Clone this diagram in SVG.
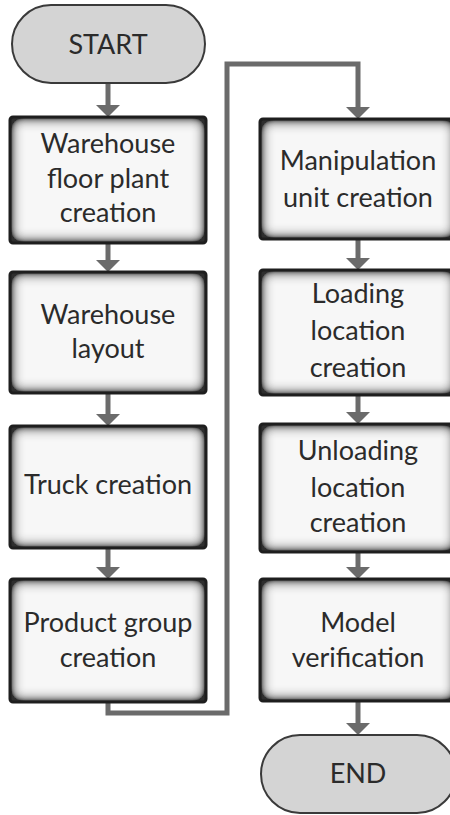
<svg xmlns="http://www.w3.org/2000/svg" width="450" height="815" viewBox="0 0 450 815">
  <style>
    .lbl { font-family: Lato, "Open Sans", "Liberation Sans", sans-serif; font-size: 27px; fill: #2b2b2b; text-anchor: middle; }
    .term { fill: #d4d4d4; stroke: #3a3a3a; stroke-width: 2; }
    .face { fill: #f7f7f7; filter: url(#vignette); }
    .edge { fill: none; stroke: #1e1e1e; stroke-width: 3; }
    .wire { fill: none; stroke: #6b6b6b; stroke-width: 5; }
  </style>
  <defs>
    <!-- grey shading that fades inward from the box edges -->
    <filter id="vignette" x="-25%" y="-35%" width="150%" height="170%">
      <feComponentTransfer in="SourceAlpha" result="inv">
        <feFuncA type="table" tableValues="1 0"/>
      </feComponentTransfer>
      <feGaussianBlur in="inv" stdDeviation="7" result="blur"/>
      <feComponentTransfer in="blur" result="boost">
        <feFuncA type="linear" slope="2.2" intercept="0"/>
      </feComponentTransfer>
      <feFlood flood-color="#2e2e2e" flood-opacity="1"/>
      <feComposite in2="boost" operator="in" result="sh"/>
      <feComposite in="sh" in2="SourceAlpha" operator="in" result="inner"/>
      <feMerge>
        <feMergeNode in="SourceGraphic"/>
        <feMergeNode in="inner"/>
      </feMerge>
    </filter>
    <marker id="head" viewBox="0 0 12 24" markerWidth="12" markerHeight="24" refX="1" refY="12" orient="auto" markerUnits="userSpaceOnUse">
      <path d="M0,0 L12,12 L0,24 Z" fill="#6b6b6b"/>
    </marker>
  </defs>

  <!-- connectors -->
  <g id="connectors">
    <path class="wire" d="M108,83 V106" marker-end="url(#head)"/>
    <path class="wire" d="M108,243 V261" marker-end="url(#head)"/>
    <path class="wire" d="M108,393 V415" marker-end="url(#head)"/>
    <path class="wire" d="M108,548 V568" marker-end="url(#head)"/>
    <path class="wire" d="M108,702 V713 H227 V64 H358 V108" marker-end="url(#head)"/>
    <path class="wire" d="M358,239 V259" marker-end="url(#head)"/>
    <path class="wire" d="M358,395 V413" marker-end="url(#head)"/>
    <path class="wire" d="M358,552 V568" marker-end="url(#head)"/>
    <path class="wire" d="M358,701 V724" marker-end="url(#head)"/>
  </g>

  <g id="start">
    <rect class="term" x="12" y="5" width="193" height="78" rx="39"/>
    <text class="lbl" x="108" y="54">START</text>
  </g>

  <g id="floor-plant">
    <rect class="face" x="10" y="117" width="196" height="126" rx="3"/>
    <rect class="edge" x="10" y="117" width="196" height="126" rx="3"/>
    <text class="lbl" x="108" y="153">Warehouse</text>
    <text class="lbl" x="108" y="188">floor plant</text>
    <text class="lbl" x="108" y="222">creation</text>
  </g>

  <g id="layout">
    <rect class="face" x="10" y="272" width="196" height="121" rx="3"/>
    <rect class="edge" x="10" y="272" width="196" height="121" rx="3"/>
    <text class="lbl" x="108" y="324">Warehouse</text>
    <text class="lbl" x="108" y="358">layout</text>
  </g>

  <g id="truck">
    <rect class="face" x="10" y="426" width="196" height="122" rx="3"/>
    <rect class="edge" x="10" y="426" width="196" height="122" rx="3"/>
    <text class="lbl" x="108" y="494">Truck creation</text>
  </g>

  <g id="product-group">
    <rect class="face" x="10" y="579" width="196" height="123" rx="3"/>
    <rect class="edge" x="10" y="579" width="196" height="123" rx="3"/>
    <text class="lbl" x="108" y="632">Product group</text>
    <text class="lbl" x="108" y="667">creation</text>
  </g>

  <g id="manipulation-unit">
    <rect class="face" x="260" y="119" width="196" height="120" rx="3"/>
    <rect class="edge" x="260" y="119" width="196" height="120" rx="3"/>
    <text class="lbl" x="358" y="170">Manipulation</text>
    <text class="lbl" x="358" y="207">unit creation</text>
  </g>

  <g id="loading-location">
    <rect class="face" x="260" y="270" width="196" height="125" rx="3"/>
    <rect class="edge" x="260" y="270" width="196" height="125" rx="3"/>
    <text class="lbl" x="358" y="303">Loading</text>
    <text class="lbl" x="358" y="340">location</text>
    <text class="lbl" x="358" y="377">creation</text>
  </g>

  <g id="unloading-location">
    <rect class="face" x="260" y="424" width="196" height="128" rx="3"/>
    <rect class="edge" x="260" y="424" width="196" height="128" rx="3"/>
    <text class="lbl" x="358" y="460">Unloading</text>
    <text class="lbl" x="358" y="497">location</text>
    <text class="lbl" x="358" y="532">creation</text>
  </g>

  <g id="model-verification">
    <rect class="face" x="260" y="579" width="196" height="122" rx="3"/>
    <rect class="edge" x="260" y="579" width="196" height="122" rx="3"/>
    <text class="lbl" x="358" y="632">Model</text>
    <text class="lbl" x="358" y="667">verification</text>
  </g>

  <g id="end">
    <rect class="term" x="261" y="735" width="195" height="78" rx="39"/>
    <text class="lbl" x="358" y="783">END</text>
  </g>
</svg>
